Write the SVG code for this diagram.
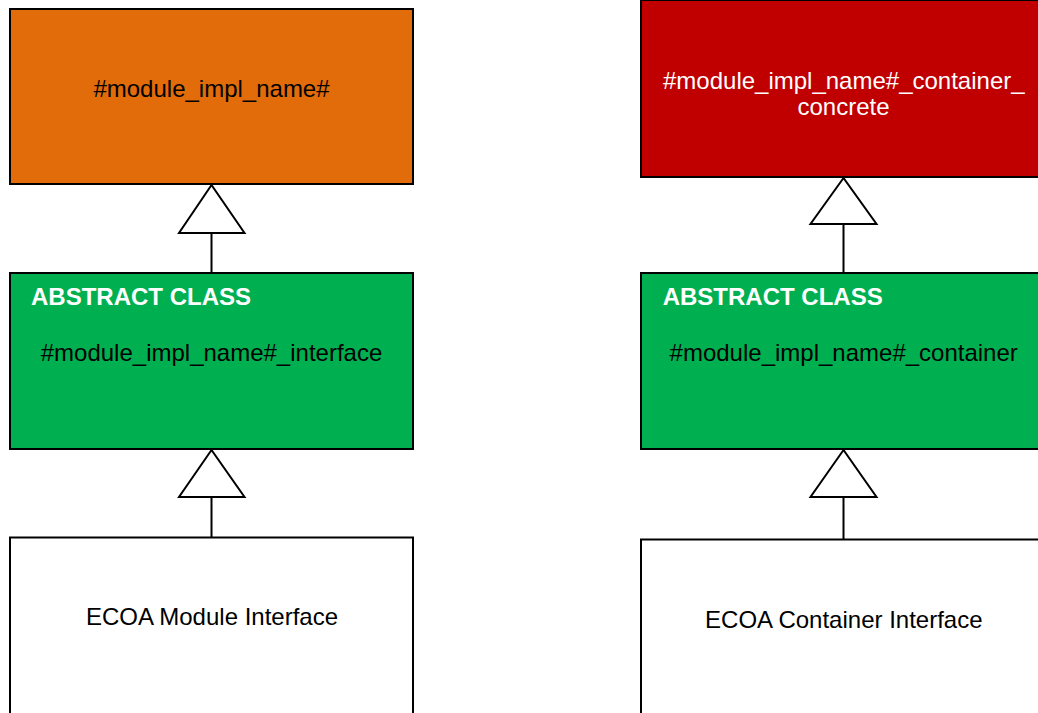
<svg xmlns="http://www.w3.org/2000/svg" width="1038" height="713" viewBox="0 0 1038 713">
<style>
.box{stroke:#000;stroke-width:2}
.t{font-family:"Liberation Sans",Arial,sans-serif;font-size:24px;fill:#000}
.w{fill:#fff}
.b{font-weight:bold}
.c{text-anchor:middle}
.conn{stroke:#000;stroke-width:2;fill:none}
.tri{stroke:#000;stroke-width:2;fill:#fff;stroke-linejoin:miter}
</style>
<rect width="1038" height="713" fill="#fff"/>
<g id="module_impl">
<rect class="box" x="10" y="9" width="403" height="175" fill="#E36C0A"/>
<text class="t c" x="211.5" y="97">#module_impl_name#</text>
</g>
<g id="module_interface">
<rect class="box" x="10" y="273" width="403" height="176" fill="#00B050"/>
<text class="t w b" x="31" y="305">ABSTRACT CLASS</text>
<text class="t c" x="211.5" y="361">#module_impl_name#_interface</text>
</g>
<g id="ecoa_module_interface">
<rect class="box" x="10" y="537.5" width="403" height="190" fill="#fff"/>
<text class="t c" x="212" y="625">ECOA Module Interface</text>
</g>
<g id="container_concrete">
<rect class="box" x="641" y="0" width="405" height="177" fill="#C00000"/>
<text class="t w c" x="843.8" y="89">#module_impl_name#_container_</text>
<text class="t w c" x="843.5" y="115">concrete</text>
</g>
<g id="container">
<rect class="box" x="641" y="273" width="405" height="176" fill="#00B050"/>
<text class="t w b" x="662.7" y="305">ABSTRACT CLASS</text>
<text class="t c" x="843.7" y="361">#module_impl_name#_container</text>
</g>
<g id="ecoa_container_interface">
<rect class="box" x="641" y="539.5" width="405" height="190" fill="#fff"/>
<text class="t c" x="843.8" y="628">ECOA Container Interface</text>
</g>
<g id="connectors">
<line class="conn" x1="211.5" y1="233" x2="211.5" y2="273"/>
<polygon class="tri" points="211.5,185 179,233 244.5,233"/>
<line class="conn" x1="211.5" y1="497" x2="211.5" y2="537.5"/>
<polygon class="tri" points="211.5,450 179,497 244.5,497"/>
<line class="conn" x1="843.5" y1="224" x2="843.5" y2="273"/>
<polygon class="tri" points="843.5,178 810.5,224 876.5,224"/>
<line class="conn" x1="843.5" y1="497" x2="843.5" y2="539.5"/>
<polygon class="tri" points="843.5,450 810.5,497 876.5,497"/>
</g>
</svg>
